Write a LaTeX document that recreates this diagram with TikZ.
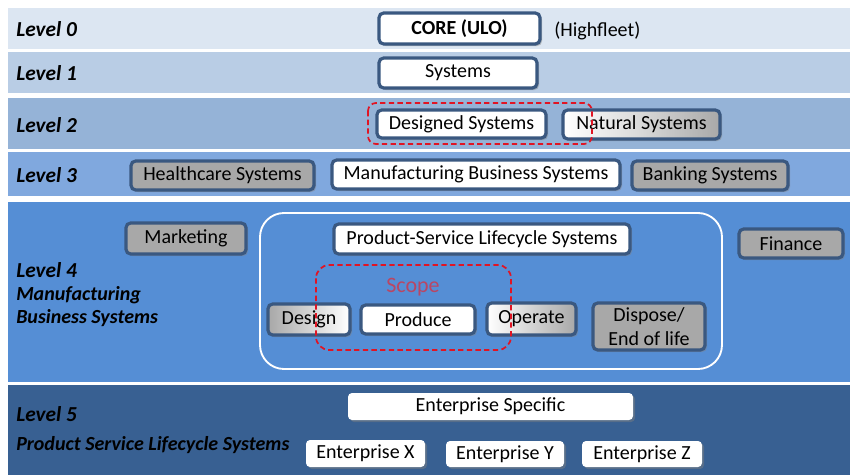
\documentclass[tikz,border=0pt]{standalone}
\usepackage{fontspec}
\setmainfont{Carlito}
\usetikzlibrary{shadows}
\definecolor{bandA}{RGB}{220,230,242}
\definecolor{bandB}{RGB}{185,205,229}
\definecolor{bandC}{RGB}{149,179,215}
\definecolor{bandD}{RGB}{128,168,222}
\definecolor{bandE}{RGB}{85,142,213}
\definecolor{bandF}{RGB}{56,96,146}
\definecolor{edge}{RGB}{58,88,128}
\definecolor{boxgray}{RGB}{168,168,168}
\definecolor{scopered}{RGB}{185,70,100}
\definecolor{dashred}{RGB}{225,20,35}
\tikzset{
  sz/.style 2 args={minimum width=#1*0.75pt, minimum height=#2*0.75pt},
  basebox/.style={draw=edge, line width=2.4pt, rounded corners=3.5pt, inner sep=0pt,
    font=\fontsize{15}{17}\selectfont, text=black,
    drop shadow={shadow xshift=1.5pt, shadow yshift=-1.5pt, opacity=0.45}},
  wbox/.style={basebox, fill=white},
  gbox/.style={basebox, fill=boxgray},
  ebox/.style={basebox, draw=none, fill=white, rounded corners=3pt},
  lvl/.style={anchor=west, inner sep=0pt, font=\fontsize{16}{18}\selectfont\bfseries\itshape},
  lvlsub/.style={anchor=west, inner sep=0pt, font=\fontsize{15}{17}\selectfont\bfseries\itshape},
  redbox/.style={draw=dashred, line width=1.3pt, rounded corners=6pt, dash pattern=on 4pt off 2.5pt},
}
\begin{document}
\begin{tikzpicture}[x=0.75pt,y=-0.75pt]
\useasboundingbox (0,0) rectangle (850,475);
\fill[white] (0,0) rectangle (850,475);
% bands
\fill[bandA] (8,8) rectangle (850,49);
\fill[bandB] (8,52) rectangle (850,93);
\fill[bandC] (8,98) rectangle (850,149);
\fill[bandD] (8,152) rectangle (850,196);
\fill[bandE] (8,202) rectangle (850,382);
\fill[bandF] (8,385) rectangle (850,475);
% level labels
\node[lvl] (l0) at (16,29) {Level 0};
\node[lvl] (l1) at (16,73) {Level 1};
\node[lvl] (l2) at (16,125) {Level 2};
\node[lvl] (l3) at (16,175) {Level 3};
\node[lvl] (l4) at (16,270) {Level 4};
\node[lvlsub] (l4a) at (16,295) {Manufacturing};
\node[lvlsub] (l4b) at (16,318) {Business Systems};
\node[lvl] (l5) at (16,414) {Level 5};
\node[lvlsub] (l5a) at (16,445) {Product Service Lifecycle Systems};
% level 0,1
\node[wbox, sz={161}{31}, font=\fontsize{15}{17}\selectfont\bfseries] (core) at (459.5,28.5) {CORE (ULO)};
\node[anchor=west, inner sep=0pt, font=\fontsize{15}{17}\selectfont] (hf) at (554,31) {(Highfleet)};
\node[wbox, sz={158}{30}] (sys) at (458,73) {Systems};
% level 2
\node[wbox, sz={169}{28}] (des) at (461.5,124) {Designed Systems};
\node[basebox, left color=white, right color=boxgray, middle color=white!55!boxgray, sz={157}{29}] (nat) at (641.5,124.5) {Natural Systems};
\draw[redbox] (368,103) rectangle (592,144);
% level 3
\node[gbox, sz={183}{29}] (hc) at (222.5,175.5) {Healthcare Systems};
\node[wbox, sz={288}{29}] (mbs) at (476,174.5) {Manufacturing Business Systems};
\node[gbox, sz={156}{29}] (bank) at (710,175.5) {Banking Systems};
% level 4
\draw[white, line width=1.4pt, rounded corners=18pt] (260,213) rectangle (722,369);
\node[gbox, sz={120}{31}] (mkt) at (186,238.5) {Marketing};
\node[wbox, sz={296}{30}] (psl) at (482,239) {Product-Service Lifecycle Systems};
\node[gbox, sz={104}{29}] (fin) at (791,243.5) {Finance};
\node[text=scopered, inner sep=0pt, font=\fontsize{16.5}{18}\selectfont] (scope) at (413,287) {Scope};
\node[basebox, left color=boxgray, right color=white, sz={82}{31}] (design) at (309,319.5) {Design};
\node[wbox, sz={114}{29}] (produce) at (418,319.5) {Produce};
\node[basebox, left color=white, right color=boxgray, sz={89}{32}] (operate) at (531.5,319) {Operate};
\node[gbox, sz={112}{47}, align=center, font=\fontsize{15}{18}\selectfont] (dispose) at (649,326.5) {Dispose/\\End of life};
\draw[redbox, rounded corners=10pt] (316,265) rectangle (511,350);
% level 5
\node[ebox, sz={285}{27}] (es) at (490.5,406.5) {Enterprise Specific};
\node[ebox, sz={119}{27}] (ex) at (365.5,453.5) {Enterprise X};
\node[ebox, sz={118}{26}] (ey) at (505,454) {Enterprise Y};
\node[ebox, sz={120}{26}] (ez) at (642,454) {Enterprise Z};
\end{tikzpicture}
\end{document}
